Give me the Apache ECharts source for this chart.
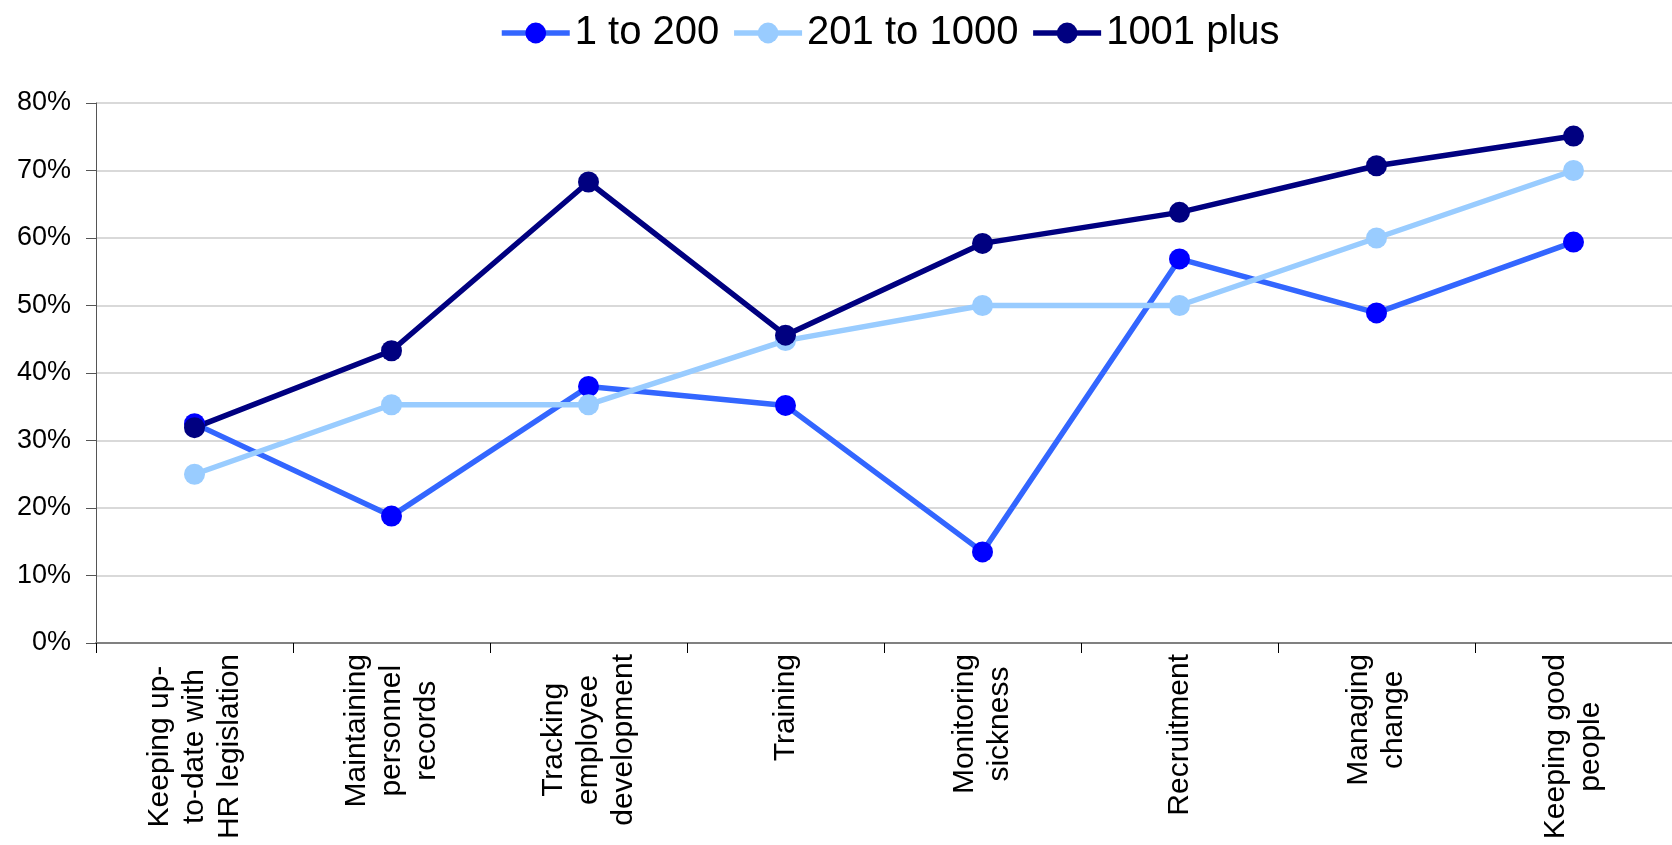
<!DOCTYPE html>
<html>
<head>
<meta charset="utf-8">
<title>HR priorities by organisation size</title>
<script src="https://cdn.jsdelivr.net/npm/echarts@6/dist/echarts.min.js"></script>
<style>
  html, body { margin: 0; padding: 0; background: #ffffff; }
  #chart { width: 1672px; height: 845px; }
</style>
</head>
<body>
<div id="chart"></div>
<script>
// Task categories shown along the horizontal axis
const categories = [
  'Keeping up-\nto-date with\nHR legislation',
  'Maintaining\npersonnel\nrecords',
  'Tracking\nemployee\ndevelopment',
  'Training',
  'Monitoring\nsickness',
  'Recruitment',
  'Managing\nchange',
  'Keeping good\npeople'
];

// Share of organisations (%) by number of employees
const small = [32.5, 18.8, 38.0, 35.2, 13.5, 56.9, 48.9, 59.4];   // 1 to 200
const medium = [25.0, 35.3, 35.3, 44.8, 50.0, 50.0, 60.0, 70.0];  // 201 to 1000
const large = [31.9, 43.3, 68.3, 45.6, 59.2, 63.8, 70.7, 75.1];   // 1001 plus

const seriesNames = ['1 to 200', '201 to 1000', '1001 plus'];

// Value axis ticks
const yMin = 0;
const yMax = 80;
const yStep = 10;

const FONT = 'Liberation Sans, Arial, sans-serif';
const LINE_WIDTH = 5.5;

function lineSeries(name, values, lineColor, markerColor) {
  return {
    name: name,
    type: 'line',
    data: values,
    symbol: 'circle',
    symbolSize: 21,
    showSymbol: true,
    lineStyle: { color: lineColor, width: LINE_WIDTH },
    itemStyle: { color: markerColor, borderWidth: 0 },
    emphasis: { disabled: true },
    animation: false
  };
}

const chart = echarts.init(document.getElementById('chart'), null, { renderer: 'canvas' });

chart.setOption({
  backgroundColor: '#ffffff',
  animation: false,
  legend: {
    data: seriesNames,
    left: 494,
    top: 8,
    itemWidth: 68,
    itemHeight: 26,
    itemGap: 12,
    lineStyle: { width: LINE_WIDTH },
    textStyle: { fontFamily: FONT, fontSize: 40, color: '#000000' }
  },
  grid: {
    left: 96,
    right: -16,
    top: 103,
    bottom: 202
  },
  xAxis: {
    type: 'category',
    data: categories,
    boundaryGap: true,
    axisLine: { show: true, lineStyle: { color: '#808080', width: 2 } },
    axisTick: { show: true, length: 10, lineStyle: { color: '#000000', width: 1 } },
    axisLabel: {
      interval: 0,
      rotate: 90,
      margin: 11,
      formatter: function (v) {
        return v.split('\n').map(function (s) { return '{c|' + s + '}'; }).join('\n');
      },
      rich: {
        c: { fontFamily: FONT, fontSize: 30, lineHeight: 35, color: '#000000', align: 'center' }
      }
    }
  },
  yAxis: {
    type: 'value',
    min: yMin,
    max: yMax,
    interval: yStep,
    axisLine: { show: true, lineStyle: { color: '#555555', width: 1 } },
    axisTick: { show: true, length: 10, lineStyle: { color: '#555555', width: 1 } },
    axisLabel: {
      margin: 25,
      fontFamily: FONT,
      fontSize: 27,
      color: '#000000',
      formatter: '{value}%'
    },
    splitLine: { show: true, lineStyle: { color: '#d9d9d9', width: 2 } }
  },
  series: [
    lineSeries(seriesNames[0], small, '#3366ff', '#0000ff'),
    lineSeries(seriesNames[1], medium, '#99ccff', '#99ccff'),
    lineSeries(seriesNames[2], large, '#000080', '#000080')
  ]
});
</script>
</body>
</html>
